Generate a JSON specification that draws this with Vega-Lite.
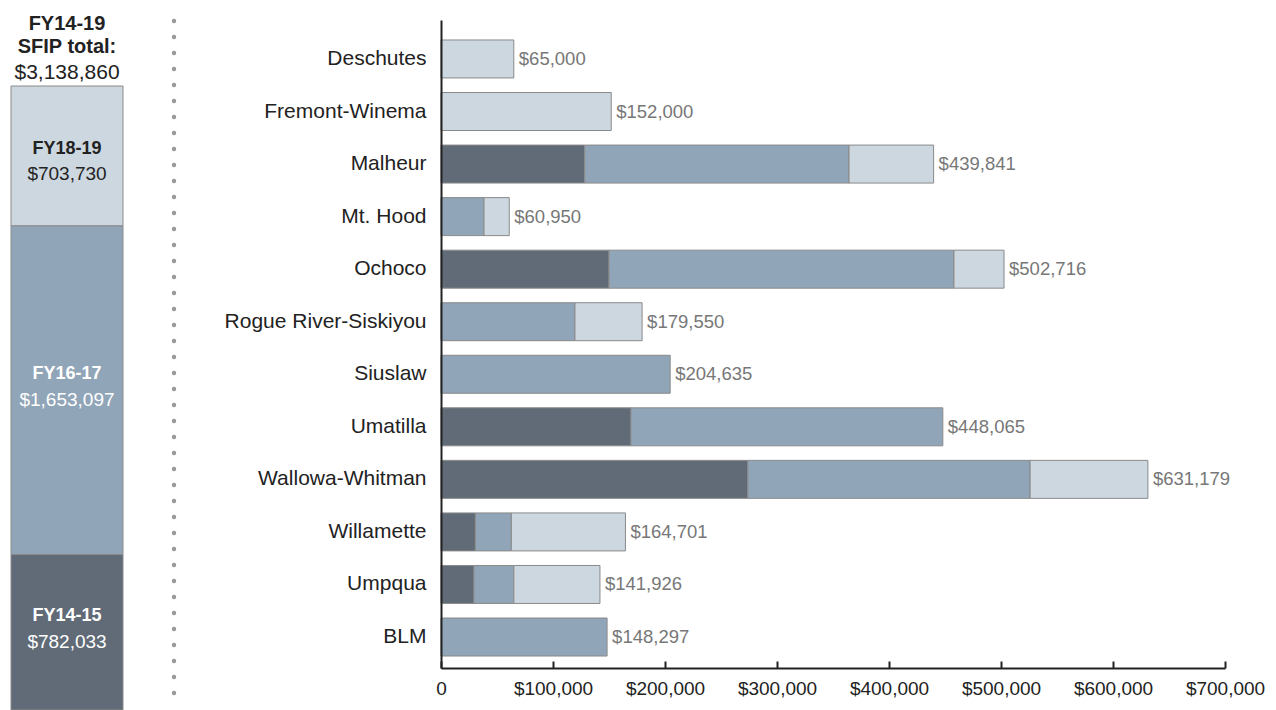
{
  "$schema": "https://vega.github.io/schema/vega-lite/v6.json",
  "padding": {"left": 10, "top": 11, "right": 0, "bottom": 0},
  "background": "white",
  "config": {"font": "Liberation Sans", "view": {"stroke": null}},
  "datasets": {
    "sfip": [
      {"district": "Deschutes", "period": "FY18-19", "amount": 65000},
      {"district": "Fremont-Winema", "period": "FY18-19", "amount": 152000},
      {"district": "Malheur", "period": "FY14-15", "amount": 128300},
      {"district": "Malheur", "period": "FY16-17", "amount": 236000},
      {"district": "Malheur", "period": "FY18-19", "amount": 75541},
      {"district": "Mt. Hood", "period": "FY16-17", "amount": 38400},
      {"district": "Mt. Hood", "period": "FY18-19", "amount": 22550},
      {"district": "Ochoco", "period": "FY14-15", "amount": 150000},
      {"district": "Ochoco", "period": "FY16-17", "amount": 308000},
      {"district": "Ochoco", "period": "FY18-19", "amount": 44716},
      {"district": "Rogue River-Siskiyou", "period": "FY16-17", "amount": 119600},
      {"district": "Rogue River-Siskiyou", "period": "FY18-19", "amount": 59950},
      {"district": "Siuslaw", "period": "FY16-17", "amount": 204635},
      {"district": "Umatilla", "period": "FY14-15", "amount": 169600},
      {"district": "Umatilla", "period": "FY16-17", "amount": 278465},
      {"district": "Wallowa-Whitman", "period": "FY14-15", "amount": 274000},
      {"district": "Wallowa-Whitman", "period": "FY16-17", "amount": 252000},
      {"district": "Wallowa-Whitman", "period": "FY18-19", "amount": 105179},
      {"district": "Willamette", "period": "FY14-15", "amount": 30700},
      {"district": "Willamette", "period": "FY16-17", "amount": 32100},
      {"district": "Willamette", "period": "FY18-19", "amount": 101901},
      {"district": "Umpqua", "period": "FY14-15", "amount": 29433},
      {"district": "Umpqua", "period": "FY16-17", "amount": 35600},
      {"district": "Umpqua", "period": "FY18-19", "amount": 76893},
      {"district": "BLM", "period": "FY16-17", "amount": 148297}
    ]
  },
  "spacing": 47,
  "hconcat": [
    {
      "width": 112,
      "height": 690,
      "data": {"name": "sfip"},
      "title": {
        "text": ["FY14-19", "SFIP total:"],
        "subtitle": "$3,138,860",
        "anchor": "middle",
        "frame": "group",
        "orient": "top",
        "offset": -63,
        "font": "Liberation Sans",
        "fontSize": 20,
        "fontWeight": "bold",
        "lineHeight": 23,
        "color": "#222222",
        "subtitleFont": "Liberation Sans",
        "subtitleFontSize": 21,
        "subtitleFontWeight": "normal",
        "subtitleColor": "#222222",
        "subtitlePadding": 5
      },
      "transform": [
        {"aggregate": [{"op": "sum", "field": "amount", "as": "total"}], "groupby": ["period"]},
        {"stack": "total", "groupby": [], "sort": [{"field": "period", "order": "ascending"}], "as": ["y0", "y1"]},
        {"calculate": "(datum.y0 + datum.y1) / 2", "as": "ymid"}
      ],
      "layer": [
        {
          "mark": {"type": "bar", "stroke": "#8a8a8a", "strokeWidth": 1},
          "encoding": {
            "x": {"datum": "SFIP", "type": "nominal", "scale": {"paddingInner": 0, "paddingOuter": 0}, "axis": null},
            "y": {"field": "y0", "type": "quantitative", "scale": {"domain": [0, 3471000], "nice": false, "zero": true}, "axis": null},
            "y2": {"field": "y1"},
            "color": {"field": "period", "type": "nominal", "scale": {"domain": ["FY14-15", "FY16-17", "FY18-19"], "range": ["#606b77", "#91a5b8", "#cdd7e0"]}, "legend": null}
          }
        },
        {
          "transform": [{"filter": "datum.period !== 'FY18-19'"}],
          "mark": {"type": "text", "fontWeight": "bold", "fontSize": 18, "dy": -16, "baseline": "middle", "align": "center", "color": "#ffffff"},
          "encoding": {
            "x": {"datum": "SFIP", "type": "nominal"},
            "y": {"field": "ymid", "type": "quantitative"},
            "text": {"field": "period", "type": "nominal"}
          }
        },
        {
          "transform": [{"filter": "datum.period !== 'FY18-19'"}],
          "mark": {"type": "text", "fontWeight": "normal", "fontSize": 19, "dy": 10, "baseline": "middle", "align": "center", "color": "#ffffff"},
          "encoding": {
            "x": {"datum": "SFIP", "type": "nominal"},
            "y": {"field": "ymid", "type": "quantitative"},
            "text": {"field": "total", "type": "quantitative", "format": "$,.0f"}
          }
        },
        {
          "transform": [{"filter": "datum.period === 'FY18-19'"}],
          "mark": {"type": "text", "fontWeight": "bold", "fontSize": 18, "dy": -7, "baseline": "middle", "align": "center", "color": "#222222"},
          "encoding": {
            "x": {"datum": "SFIP", "type": "nominal"},
            "y": {"field": "ymid", "type": "quantitative"},
            "text": {"field": "period", "type": "nominal"}
          }
        },
        {
          "transform": [{"filter": "datum.period === 'FY18-19'"}],
          "mark": {"type": "text", "fontWeight": "normal", "fontSize": 19, "dy": 18, "baseline": "middle", "align": "center", "color": "#222222"},
          "encoding": {
            "x": {"datum": "SFIP", "type": "nominal"},
            "y": {"field": "ymid", "type": "quantitative"},
            "text": {"field": "total", "type": "quantitative", "format": "$,.0f"}
          }
        }
      ]
    },
    {
      "width": 2,
      "height": 673,
      "data": {"values": [{}]},
      "mark": {"type": "rule", "strokeDash": [0, 16], "strokeCap": "round", "strokeWidth": 4.5, "color": "#9a9a9a"},
      "encoding": {
        "y": {"datum": 0, "type": "quantitative", "scale": {"domain": [0, 1], "nice": false}, "axis": null},
        "y2": {"datum": 1.01}
      }
    },
    {
      "width": 784,
      "height": 648,
      "data": {"name": "sfip"},
      "encoding": {
        "y": {
          "field": "district",
          "type": "nominal",
          "sort": ["Deschutes", "Fremont-Winema", "Malheur", "Mt. Hood", "Ochoco", "Rogue River-Siskiyou", "Siuslaw", "Umatilla", "Wallowa-Whitman", "Willamette", "Umpqua", "BLM"],
          "scale": {"paddingInner": 0.277, "paddingOuter": 0.304, "align": 0.625},
          "axis": {"title": null, "domain": true, "domainColor": "#222222", "domainWidth": 2, "ticks": false, "labelFontSize": 21, "labelColor": "#222222", "labelPadding": 15, "labelLimit": 0, "labelFont": "Liberation Sans", "zindex": 1}
        }
      },
      "layer": [
        {
          "mark": {"type": "bar", "stroke": "#8a8a8a", "strokeWidth": 1},
          "encoding": {
            "x": {
              "aggregate": "sum", "field": "amount", "type": "quantitative",
              "scale": {"domain": [0, 700000], "nice": false},
              "axis": {
                "title": null,
                "values": [0, 100000, 200000, 300000, 400000, 500000, 600000, 700000],
                "labelExpr": "datum.value === 0 ? '0' : '$' + format(datum.value, ',')",
                "grid": false,
                "domainColor": "#222222", "domainWidth": 2,
                "tickColor": "#222222", "tickWidth": 2, "tickSize": -7,
                "labelFontSize": 19, "labelColor": "#222222", "labelPadding": 18,
                "labelFlush": false, "labelOverlap": false, "labelFont": "Liberation Sans",
                "zindex": 1
              }
            },
            "color": {"field": "period", "type": "nominal", "scale": {"domain": ["FY14-15", "FY16-17", "FY18-19"], "range": ["#606b77", "#91a5b8", "#cdd7e0"]}, "legend": null},
            "order": {"field": "period", "type": "ordinal", "sort": "ascending"}
          }
        },
        {
          "mark": {"type": "text", "align": "left", "baseline": "middle", "dx": 5, "fontSize": 18.5, "color": "#777777"},
          "encoding": {
            "x": {"aggregate": "sum", "field": "amount", "type": "quantitative"},
            "text": {"aggregate": "sum", "field": "amount", "type": "quantitative", "format": "$,.0f"}
          }
        }
      ]
    }
  ]
}
